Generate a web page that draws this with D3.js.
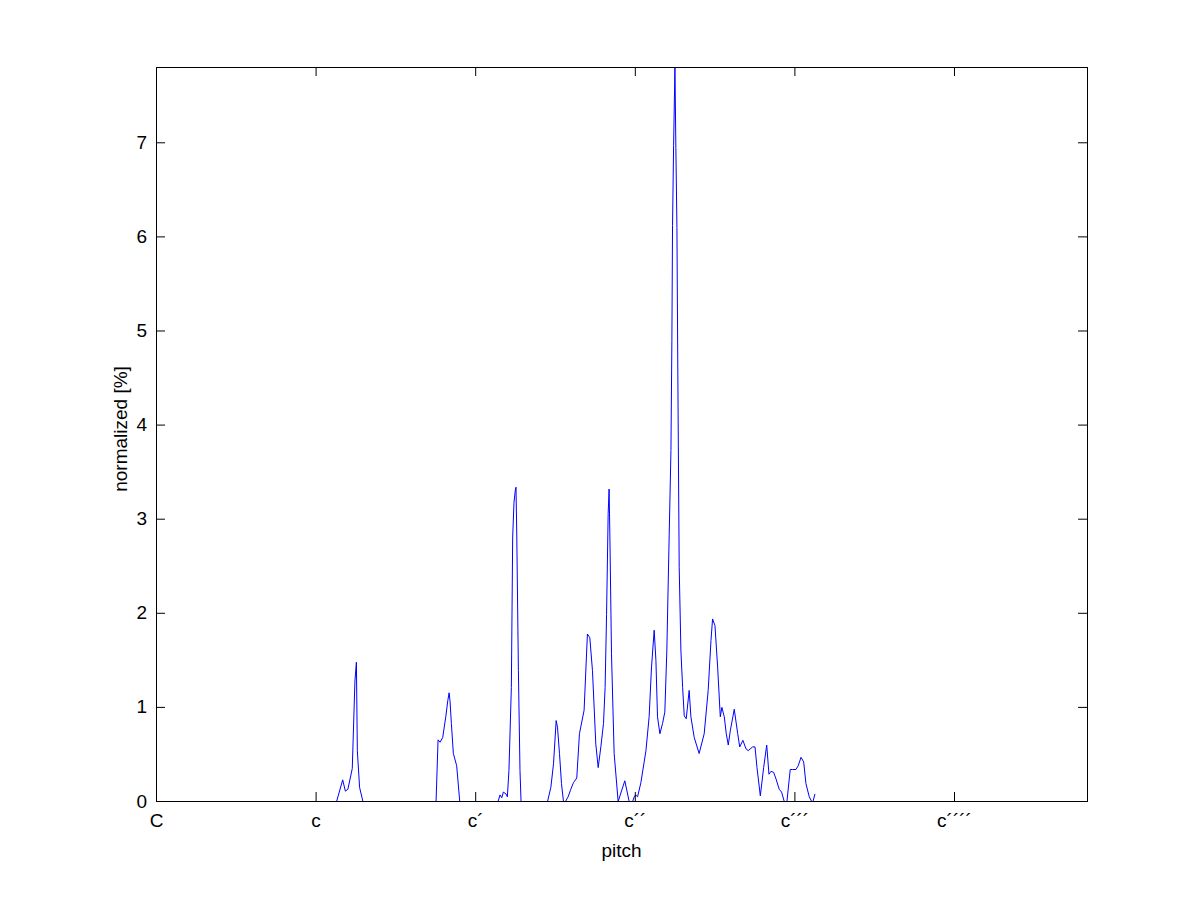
<!DOCTYPE html>
<html>
<head>
<meta charset="utf-8">
<script src="https://cdn.jsdelivr.net/npm/d3@7"></script>
<style>
  html, body { margin: 0; padding: 0; background: #ffffff; }
  svg { display: block; }
  text { font-family: "Liberation Sans", Arial, Helvetica, sans-serif; }
</style>
</head>
<body>
<svg id="chart" width="1201" height="901"></svg>
<script>
// pitch in semitones above C (great octave C)
const pitch = [
  13.54, 14.00, 14.20, 14.39, 14.72, 14.92, 15.03, 15.10, 15.27, 15.52,
  21.02, 21.17, 21.32, 21.52, 21.75, 21.90, 22.00, 22.07, 22.17, 22.32, 22.57, 22.80,
  25.68, 25.83, 25.96, 26.08, 26.28, 26.38, 26.50, 26.68, 26.78, 26.88, 26.98, 27.03, 27.09, 27.21, 27.33, 27.41,
  29.40, 29.65, 29.85, 30.05, 30.15, 30.30, 30.45, 30.60, 30.75, 30.95, 31.15, 31.35, 31.60,
  31.80, 32.15, 32.40, 32.58, 32.78, 33.03, 33.21, 33.41, 33.61, 33.73, 33.84, 33.96, 34.03, 34.09, 34.21, 34.41, 34.71,
  35.21, 35.54, 35.80, 35.92, 36.02, 36.17, 36.42, 36.80, 37.04, 37.22, 37.42, 37.55, 37.67, 37.85, 38.05, 38.22, 38.37,
  38.55, 38.68, 38.75, 38.80, 38.88, 38.98, 39.05, 39.13, 39.20, 39.30, 39.43, 39.56, 39.68, 39.83, 40.05, 40.18, 40.43,
  40.80, 41.18, 41.48, 41.69, 41.81, 41.99, 42.19, 42.39, 42.51, 42.69, 42.84, 42.99, 43.14, 43.44, 43.70, 43.85, 44.09,
  44.32, 44.49, 44.82, 45.00, 45.15, 45.40, 45.65, 45.88, 46.05, 46.20, 46.40, 46.58, 46.82, 47.00, 47.20, 47.40,
  47.65, 47.83, 48.08, 48.25, 48.46, 48.66, 48.83, 49.08, 49.26, 49.36, 49.51
];
const normalized = [
  0, 0.23, 0.11, 0.13, 0.35, 1.28, 1.48, 0.54, 0.15, 0,
  0, 0.655, 0.63, 0.68, 0.90, 1.07, 1.155, 1.07, 0.83, 0.51, 0.38, 0,
  0, 0.07, 0.04, 0.10, 0.08, 0.05, 0.33, 1.21, 2.81, 3.18, 3.31, 3.34, 2.81, 1.39, 0.33, 0,
  0, 0.15, 0.40, 0.86, 0.79, 0.51, 0.19, 0, 0, 0.05, 0.13, 0.20, 0.25,
  0.72, 0.97, 1.78, 1.74, 1.39, 0.61, 0.36, 0.58, 0.83, 1.21, 1.99, 3.06, 3.32, 2.81, 1.57, 0.51, 0,
  0.22, 0, 0, 0.05, 0.07, 0.05, 0.20, 0.54, 0.90, 1.43, 1.82, 1.50, 0.90, 0.72, 0.83, 0.95, 1.60,
  2.84, 3.73, 4.90, 6.12, 6.97, 7.80, 6.95, 6.10, 4.50, 2.49, 1.60, 1.21, 0.91, 0.88, 1.18, 0.90, 0.68,
  0.51, 0.72, 1.18, 1.71, 1.94, 1.87, 1.43, 0.90, 1.00, 0.90, 0.72, 0.60, 0.75, 0.98, 0.72, 0.58, 0.65,
  0.56, 0.54, 0.58, 0.58, 0.36, 0.06, 0.36, 0.60, 0.29, 0.32, 0.31, 0.24, 0.13, 0.10, 0, 0,
  0.34, 0.34, 0.34, 0.38, 0.47, 0.42, 0.19, 0.05, 0, 0, 0.08
];
const xTickValues = [0, 12, 24, 36, 48, 60];
const xTickLabels = ["C", "c", "c\u00B4", "c\u00B4\u00B4", "c\u00B4\u00B4\u00B4", "c\u00B4\u00B4\u00B4\u00B4"];
const yTickValues = [0, 1, 2, 3, 4, 5, 6, 7];
const xDomain = [0, 70];
const xLabel = "pitch";
const yLabel = "normalized [%]";

const svg = d3.select("#chart");
const mLeft = 156, mRight = 1087, mTop = 67, mBottom = 801;
const fontSize = 19;

const x = d3.scaleLinear().domain(xDomain).range([mLeft, mRight]);
const y = d3.scaleLinear().domain([0, d3.max(normalized)]).range([mBottom, mTop]);

const data = pitch.map((p, i) => [p, normalized[i]]);

// data line (half-pixel offset so the zero level sits on the axis row)
svg.append("path")
  .datum(data)
  .attr("fill", "none")
  .attr("stroke", "#0000ff")
  .attr("stroke-width", 1)
  .attr("stroke-linejoin", "miter")
  .attr("d", d3.line().x(d => x(d[0]) + 0.5).y(d => y(d[1]) + 0.5));

const tickFmt = (v) => xTickLabels[xTickValues.indexOf(v)];

function styleAxis(g) {
  g.selectAll("path, line").attr("stroke", "#000").attr("stroke-width", 1);
  g.selectAll("text").attr("fill", "#000").style("font-size", fontSize + "px")
    .style("font-family", '"Liberation Sans", Arial, sans-serif');
}

// bottom axis
svg.append("g").attr("transform", `translate(0,${mBottom})`)
  .call(d3.axisBottom(x).tickValues(xTickValues).tickFormat(tickFmt)
    .tickSizeInner(-9).tickSizeOuter(0).tickPadding(13))
  .call(styleAxis);
// top axis (ticks only)
svg.append("g").attr("transform", `translate(0,${mTop})`)
  .call(d3.axisTop(x).tickValues(xTickValues).tickFormat("")
    .tickSizeInner(-9).tickSizeOuter(0))
  .call(styleAxis);
// left axis
svg.append("g").attr("transform", `translate(${mLeft},0)`)
  .call(d3.axisLeft(y).tickValues(yTickValues).tickFormat(d3.format("d"))
    .tickSizeInner(-9).tickSizeOuter(0).tickPadding(9))
  .call(styleAxis);
// right axis (ticks only)
svg.append("g").attr("transform", `translate(${mRight},0)`)
  .call(d3.axisRight(y).tickValues(yTickValues).tickFormat("")
    .tickSizeInner(-9).tickSizeOuter(0))
  .call(styleAxis);

// frame
svg.append("rect")
  .attr("x", mLeft + 0.5).attr("y", mTop + 0.5)
  .attr("width", mRight - mLeft).attr("height", mBottom - mTop)
  .attr("fill", "none").attr("stroke", "#000").attr("stroke-width", 1);

// axis labels
svg.append("text")
  .attr("x", (mLeft + mRight) / 2).attr("y", 857)
  .attr("text-anchor", "middle")
  .style("font-size", fontSize + "px")
  .text(xLabel);

svg.append("text")
  .attr("transform", `translate(127,${(mTop + mBottom) / 2 - 5}) rotate(-90)`)
  .attr("text-anchor", "middle")
  .style("font-size", fontSize + "px")
  .text(yLabel);
</script>
</body>
</html>
